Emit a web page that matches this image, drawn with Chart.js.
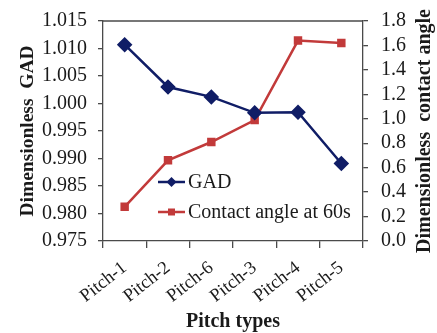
<!DOCTYPE html>
<html>
<head>
<meta charset="utf-8">
<script src="https://cdn.jsdelivr.net/npm/chart.js@4/dist/chart.umd.min.js"></script>
<style>
html,body{margin:0;padding:0;background:#fff;}
#wrap{width:437px;height:333px;position:relative;}
</style>
</head>
<body>
<div id="wrap"><canvas id="c" width="437" height="333"></canvas></div>
<script>
const categories = ['Pitch-1','Pitch-2','Pitch-6','Pitch-3','Pitch-4','Pitch-5'];
const gadValues = [1.0107, 1.0030, 1.0012, 0.9983, 0.9984, 0.9891];
const contactValues = [0.28, 0.66, 0.81, 0.99, 1.64, 1.62];
const seriesNames = ['GAD', 'Contact angle at 60s'];
const leftTitle = 'Dimensionless  GAD';
const rightTitle = 'Dimensionless  contact angle';
const xTitle = 'Pitch types';

const NAVY = '#101d66';
const RED = '#c23a3a';
const INK = '#1a1a1a';
const AXIS = '#4a4a4a';
const FONT = "'Liberation Serif', 'Times New Roman', serif";

const framePlugin = {
  id: 'frame',
  afterDraw(chart) {
    const {ctx, chartArea: a} = chart;
    ctx.save();
    ctx.strokeStyle = AXIS;
    ctx.lineWidth = 1.3;
    ctx.beginPath();
    ctx.moveTo(a.left, a.top);
    ctx.lineTo(a.right, a.top);
    ctx.stroke();
    // right axis title (reads bottom to top)
    ctx.save();
    ctx.translate(425, (a.top + a.bottom) / 2);
    ctx.rotate(-Math.PI / 2);
    ctx.fillStyle = INK;
    ctx.font = "bold 20px " + FONT;
    ctx.textAlign = 'center';
    ctx.textBaseline = 'middle';
    ctx.fillText(rightTitle, 0, 0);
    ctx.restore();
    // legend
    const rows = [
      {ds: chart.data.datasets[0], y: 182, shape: 'diamond'},
      {ds: chart.data.datasets[1], y: 212, shape: 'square'}
    ];
    rows.forEach(r => {
      ctx.strokeStyle = r.ds.borderColor;
      ctx.lineWidth = 2.5;
      ctx.beginPath();
      ctx.moveTo(158, r.y);
      ctx.lineTo(185, r.y);
      ctx.stroke();
      ctx.fillStyle = r.ds.borderColor;
      const cx = 171.5;
      if (r.shape === 'diamond') {
        ctx.beginPath();
        ctx.moveTo(cx, r.y - 5); ctx.lineTo(cx + 5, r.y); ctx.lineTo(cx, r.y + 5); ctx.lineTo(cx - 5, r.y);
        ctx.closePath(); ctx.fill();
      } else {
        ctx.fillRect(cx - 3.5, r.y - 3.5, 7, 7);
      }
      ctx.fillStyle = INK;
      ctx.font = "20px " + FONT;
      ctx.textBaseline = 'middle';
      ctx.textAlign = 'left';
      ctx.fillText(r.ds.label, 188, r.y + 1);
    });
    ctx.restore();
  }
};

new Chart(document.getElementById('c'), {
  type: 'line',
  data: {
    labels: categories,
    datasets: [
      {
        label: seriesNames[0], data: gadValues, yAxisID: 'y',
        borderColor: NAVY, backgroundColor: NAVY, borderWidth: 2.5,
        pointStyle: 'rectRot', pointRadius: 6, pointHoverRadius: 6, tension: 0
      },
      {
        label: seriesNames[1], data: contactValues, yAxisID: 'y1',
        borderColor: RED, backgroundColor: RED, borderWidth: 2.5,
        pointStyle: 'rect', pointRadius: 4.2, pointHoverRadius: 4.2, tension: 0
      }
    ]
  },
  options: {
    responsive: false,
    animation: false,
    devicePixelRatio: 1,
    layout: {padding: {top: 15, left: 0, right: 0, bottom: 0}},
    plugins: {legend: {display: false}, tooltip: {enabled: false}},
    scales: {
      x: {
        type: 'category',
        offset: true,
        grid: {offset: true, drawOnChartArea: false, drawTicks: true, tickLength: 7, color: AXIS, lineWidth: 1.3},
        border: {display: true, color: AXIS, width: 1.3},
        ticks: {color: INK, font: {family: FONT, size: 18.5}, minRotation: 38, maxRotation: 38, padding: 9, autoSkip: false},
        title: {display: true, text: xTitle, color: INK, font: {family: FONT, size: 20, weight: 'bold', lineHeight: 1.1}, padding: {top: 0, bottom: 0}},
        afterFit(s) { s.height = 92; }
      },
      y: {
        position: 'left',
        min: 0.975, max: 1.015,
        grid: {drawOnChartArea: false, drawTicks: true, tickLength: 5, color: AXIS, lineWidth: 1.3},
        border: {display: true, color: AXIS, width: 1.3},
        ticks: {stepSize: 0.005, autoSkip: false, color: INK, font: {family: FONT, size: 20, lineHeight: 0.8}, padding: 11, callback: v => Number(v).toFixed(3)},
        title: {display: true, text: leftTitle, color: INK, font: {family: FONT, size: 19.5, weight: 'bold', lineHeight: 1.2}, padding: {top: 16.5, bottom: 0}},
        afterFit(s) { s.width = 103; }
      },
      y1: {
        position: 'right',
        min: 0, max: 1.8,
        grid: {drawOnChartArea: false, drawTicks: true, tickLength: 5, color: AXIS, lineWidth: 1.3},
        border: {display: true, color: AXIS, width: 1.3},
        ticks: {stepSize: 0.2, autoSkip: false, color: INK, font: {family: FONT, size: 20, lineHeight: 0.8}, padding: 13, callback: v => Number(v).toFixed(1)},
        title: {display: false},
        afterFit(s) { s.width = 74; }
      }
    }
  },
  plugins: [framePlugin]
});
</script>
</body>
</html>
